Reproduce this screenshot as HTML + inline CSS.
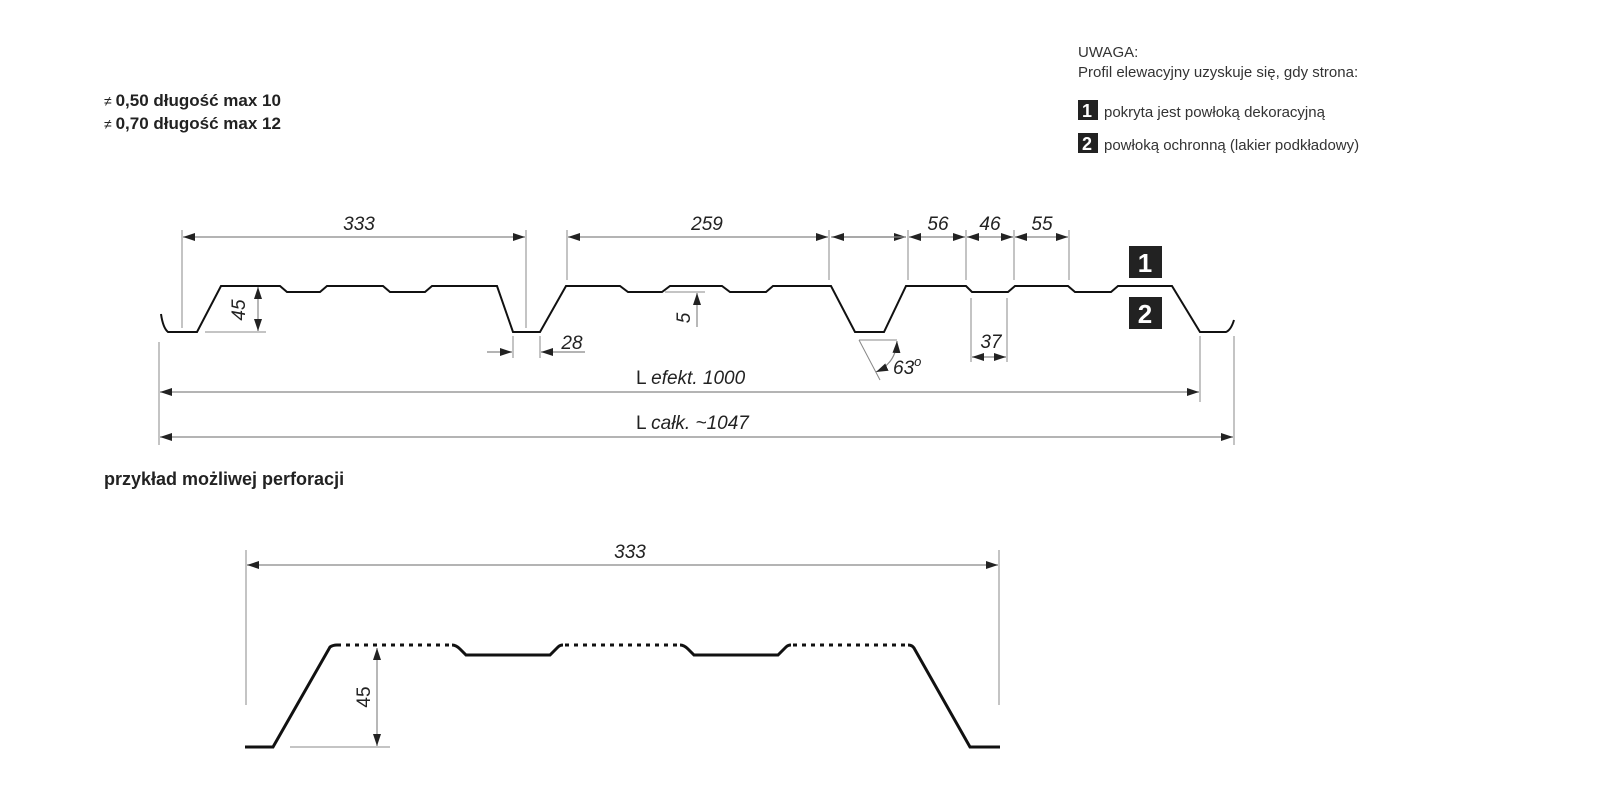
<!DOCTYPE html>
<html><head><meta charset="utf-8"><style>
html,body{margin:0;padding:0;background:#fff;}
svg{display:block;}
text{font-family:"Liberation Sans",sans-serif;}
</style></head><body>
<svg width="1600" height="800" viewBox="0 0 1600 800" xmlns="http://www.w3.org/2000/svg">
<defs>
<marker id="a" viewBox="0 0 12 8" refX="12" refY="4" markerWidth="12" markerHeight="8" orient="auto-start-reverse" markerUnits="userSpaceOnUse">
<path d="M0,0 L12,4 L0,8 z" fill="#222"/></marker>
</defs>
<!-- top-left text -->
<g fill="#222" font-weight="bold" font-size="17">
<text x="104" y="106"><tspan font-weight="normal" font-size="14">≠ </tspan>0,50 długość max 10</text>
<text x="104" y="129"><tspan font-weight="normal" font-size="14">≠ </tspan>0,70 długość max 12</text>
<text x="104" y="485" font-size="18">przykład możliwej perforacji</text>
</g>
<!-- UWAGA -->
<g fill="#333" font-size="15">
<text x="1078" y="57">UWAGA:</text>
<text x="1078" y="77">Profil elewacyjny uzyskuje się, gdy strona:</text>
<rect x="1078" y="100" width="20" height="20" fill="#222"/>
<text x="1082" y="117" fill="#fff" font-weight="bold" font-size="18">1</text>
<text x="1104" y="117">pokryta jest powłoką dekoracyjną</text>
<rect x="1078" y="133" width="20" height="20" fill="#222"/>
<text x="1082" y="150" fill="#fff" font-weight="bold" font-size="18">2</text>
<text x="1104" y="150">powłoką ochronną (lakier podkładowy)</text>
</g>
<!-- main profile -->
<path d="M161,314 Q163,328 168,332 L197,332 L221,286 L280,286 L287,292 L320,292 L327,286 L383,286 L390,292 L425,292 L432,286 L497,286 L513,332 L540,332 L566,286 L620,286 L628,292 L662,292 L670,286 L722,286 L730,292 L766,292 L773,286 L831,286 L855,332 L884,332 L906,286 L966,286 L972,292 L1008,292 L1015,286 L1068,286 L1075,292 L1111,292 L1118,286 L1172,286 L1200,332 L1226,332 Q1231,330 1234,320" fill="none" stroke="#111" stroke-width="2"/>
<!-- dims -->
<g stroke="#888" stroke-width="1" fill="none">
<line x1="182" y1="230" x2="182" y2="328"/><line x1="526" y1="230" x2="526" y2="328"/>
<line x1="567" y1="230" x2="567" y2="280"/><line x1="829" y1="230" x2="829" y2="280"/>
<line x1="908" y1="230" x2="908" y2="280"/><line x1="966" y1="230" x2="966" y2="280"/>
<line x1="1014" y1="230" x2="1014" y2="280"/><line x1="1069" y1="230" x2="1069" y2="280"/>
<line x1="205" y1="332" x2="266" y2="332"/>
<line x1="665" y1="292" x2="705" y2="292"/>
<line x1="513" y1="336" x2="513" y2="358"/><line x1="540" y1="336" x2="540" y2="358"/>
<line x1="971" y1="298" x2="971" y2="362"/><line x1="1007" y1="298" x2="1007" y2="362"/>
<line x1="859" y1="340" x2="897" y2="340"/><line x1="859" y1="340" x2="880" y2="380"/>
<line x1="159" y1="342" x2="159" y2="445"/><line x1="1200" y1="336" x2="1200" y2="402"/>
<line x1="1234" y1="336" x2="1234" y2="445"/>
</g>
<g stroke="#888" stroke-width="1.2" fill="none">
<line x1="183" y1="237" x2="525" y2="237" marker-start="url(#a)" marker-end="url(#a)"/>
<line x1="568" y1="237" x2="828" y2="237" marker-start="url(#a)" marker-end="url(#a)"/>
<line x1="831" y1="237" x2="906" y2="237" marker-end="url(#a)"/>
<line x1="832" y1="237" x2="906" y2="237" marker-start="url(#a)"/>
<line x1="909" y1="237" x2="965" y2="237" marker-start="url(#a)" marker-end="url(#a)"/>
<line x1="967" y1="237" x2="1013" y2="237" marker-start="url(#a)" marker-end="url(#a)"/>
<line x1="1015" y1="237" x2="1068" y2="237" marker-start="url(#a)" marker-end="url(#a)"/>
<line x1="258" y1="287" x2="258" y2="331" marker-start="url(#a)" marker-end="url(#a)"/>
<line x1="697" y1="327" x2="697" y2="293" marker-end="url(#a)"/>
<line x1="487" y1="352" x2="512" y2="352" marker-end="url(#a)"/>
<line x1="585" y1="352" x2="541" y2="352" marker-end="url(#a)"/>
<line x1="972" y1="357" x2="1006" y2="357" marker-start="url(#a)" marker-end="url(#a)"/>
<line x1="160" y1="392" x2="1199" y2="392" marker-start="url(#a)" marker-end="url(#a)"/>
<line x1="160" y1="437" x2="1233" y2="437" marker-start="url(#a)" marker-end="url(#a)"/>
<path d="M897,341 Q896,363 876,372" marker-start="url(#a)" marker-end="url(#a)"/>
</g>
<g fill="#222" font-size="19" font-style="italic">
<text x="359" y="230" text-anchor="middle">333</text>
<text x="707" y="230" text-anchor="middle">259</text>
<text x="938" y="230" text-anchor="middle">56</text>
<text x="990" y="230" text-anchor="middle">46</text>
<text x="1042" y="230" text-anchor="middle">55</text>
<text x="572" y="349" text-anchor="middle">28</text>
<text x="991" y="348" text-anchor="middle">37</text>
<text x="893" y="374">63<tspan font-size="13" dy="-8">o</tspan></text>
<text transform="translate(245,310) rotate(-90)" text-anchor="middle">45</text>
<text transform="translate(690,318) rotate(-90)" text-anchor="middle">5</text>
<text x="636" y="384" font-style="normal">L <tspan font-style="italic">efekt. 1000</tspan></text>
<text x="636" y="429" font-style="normal">L <tspan font-style="italic">całk. ~1047</tspan></text>
</g>
<rect x="1129" y="246" width="33" height="32" fill="#222"/>
<text x="1145" y="272" text-anchor="middle" fill="#fff" font-weight="bold" font-size="26">1</text>
<rect x="1129" y="297" width="33" height="32" fill="#222"/>
<text x="1145" y="323" text-anchor="middle" fill="#fff" font-weight="bold" font-size="26">2</text>
<!-- bottom profile -->
<g stroke="#111" stroke-width="3" fill="none">
<path d="M245,747 L273,747 L330,647 Q333,645 337,645"/>
<path d="M452,645 Q456,645 460,649 L466,655 L550,655 L558,647 Q560,645 563,645"/>
<path d="M680,645 Q684,645 688,649 L694,655 L778,655 L786,647 Q788,645 791,645"/>
<path d="M908,645 Q912,645 914,648 L970,747 L1000,747"/>
<g stroke-dasharray="4,5" stroke-width="3">
<line x1="337" y1="645" x2="452" y2="645"/>
<line x1="565" y1="645" x2="680" y2="645"/>
<line x1="793" y1="645" x2="908" y2="645"/>
</g>
</g>
<g stroke="#888" stroke-width="1" fill="none">
<line x1="246" y1="550" x2="246" y2="705"/><line x1="999" y1="550" x2="999" y2="705"/>
<line x1="290" y1="747" x2="390" y2="747"/>
<line x1="247" y1="565" x2="998" y2="565" stroke-width="1.2" marker-start="url(#a)" marker-end="url(#a)"/>
<line x1="377" y1="648" x2="377" y2="746" stroke-width="1.2" marker-start="url(#a)" marker-end="url(#a)"/>
</g>
<text x="630" y="558" text-anchor="middle" fill="#222" font-size="19" font-style="italic">333</text>
<text transform="translate(370,697) rotate(-90)" text-anchor="middle" fill="#222" font-size="19">45</text>
</svg>
</body></html>
